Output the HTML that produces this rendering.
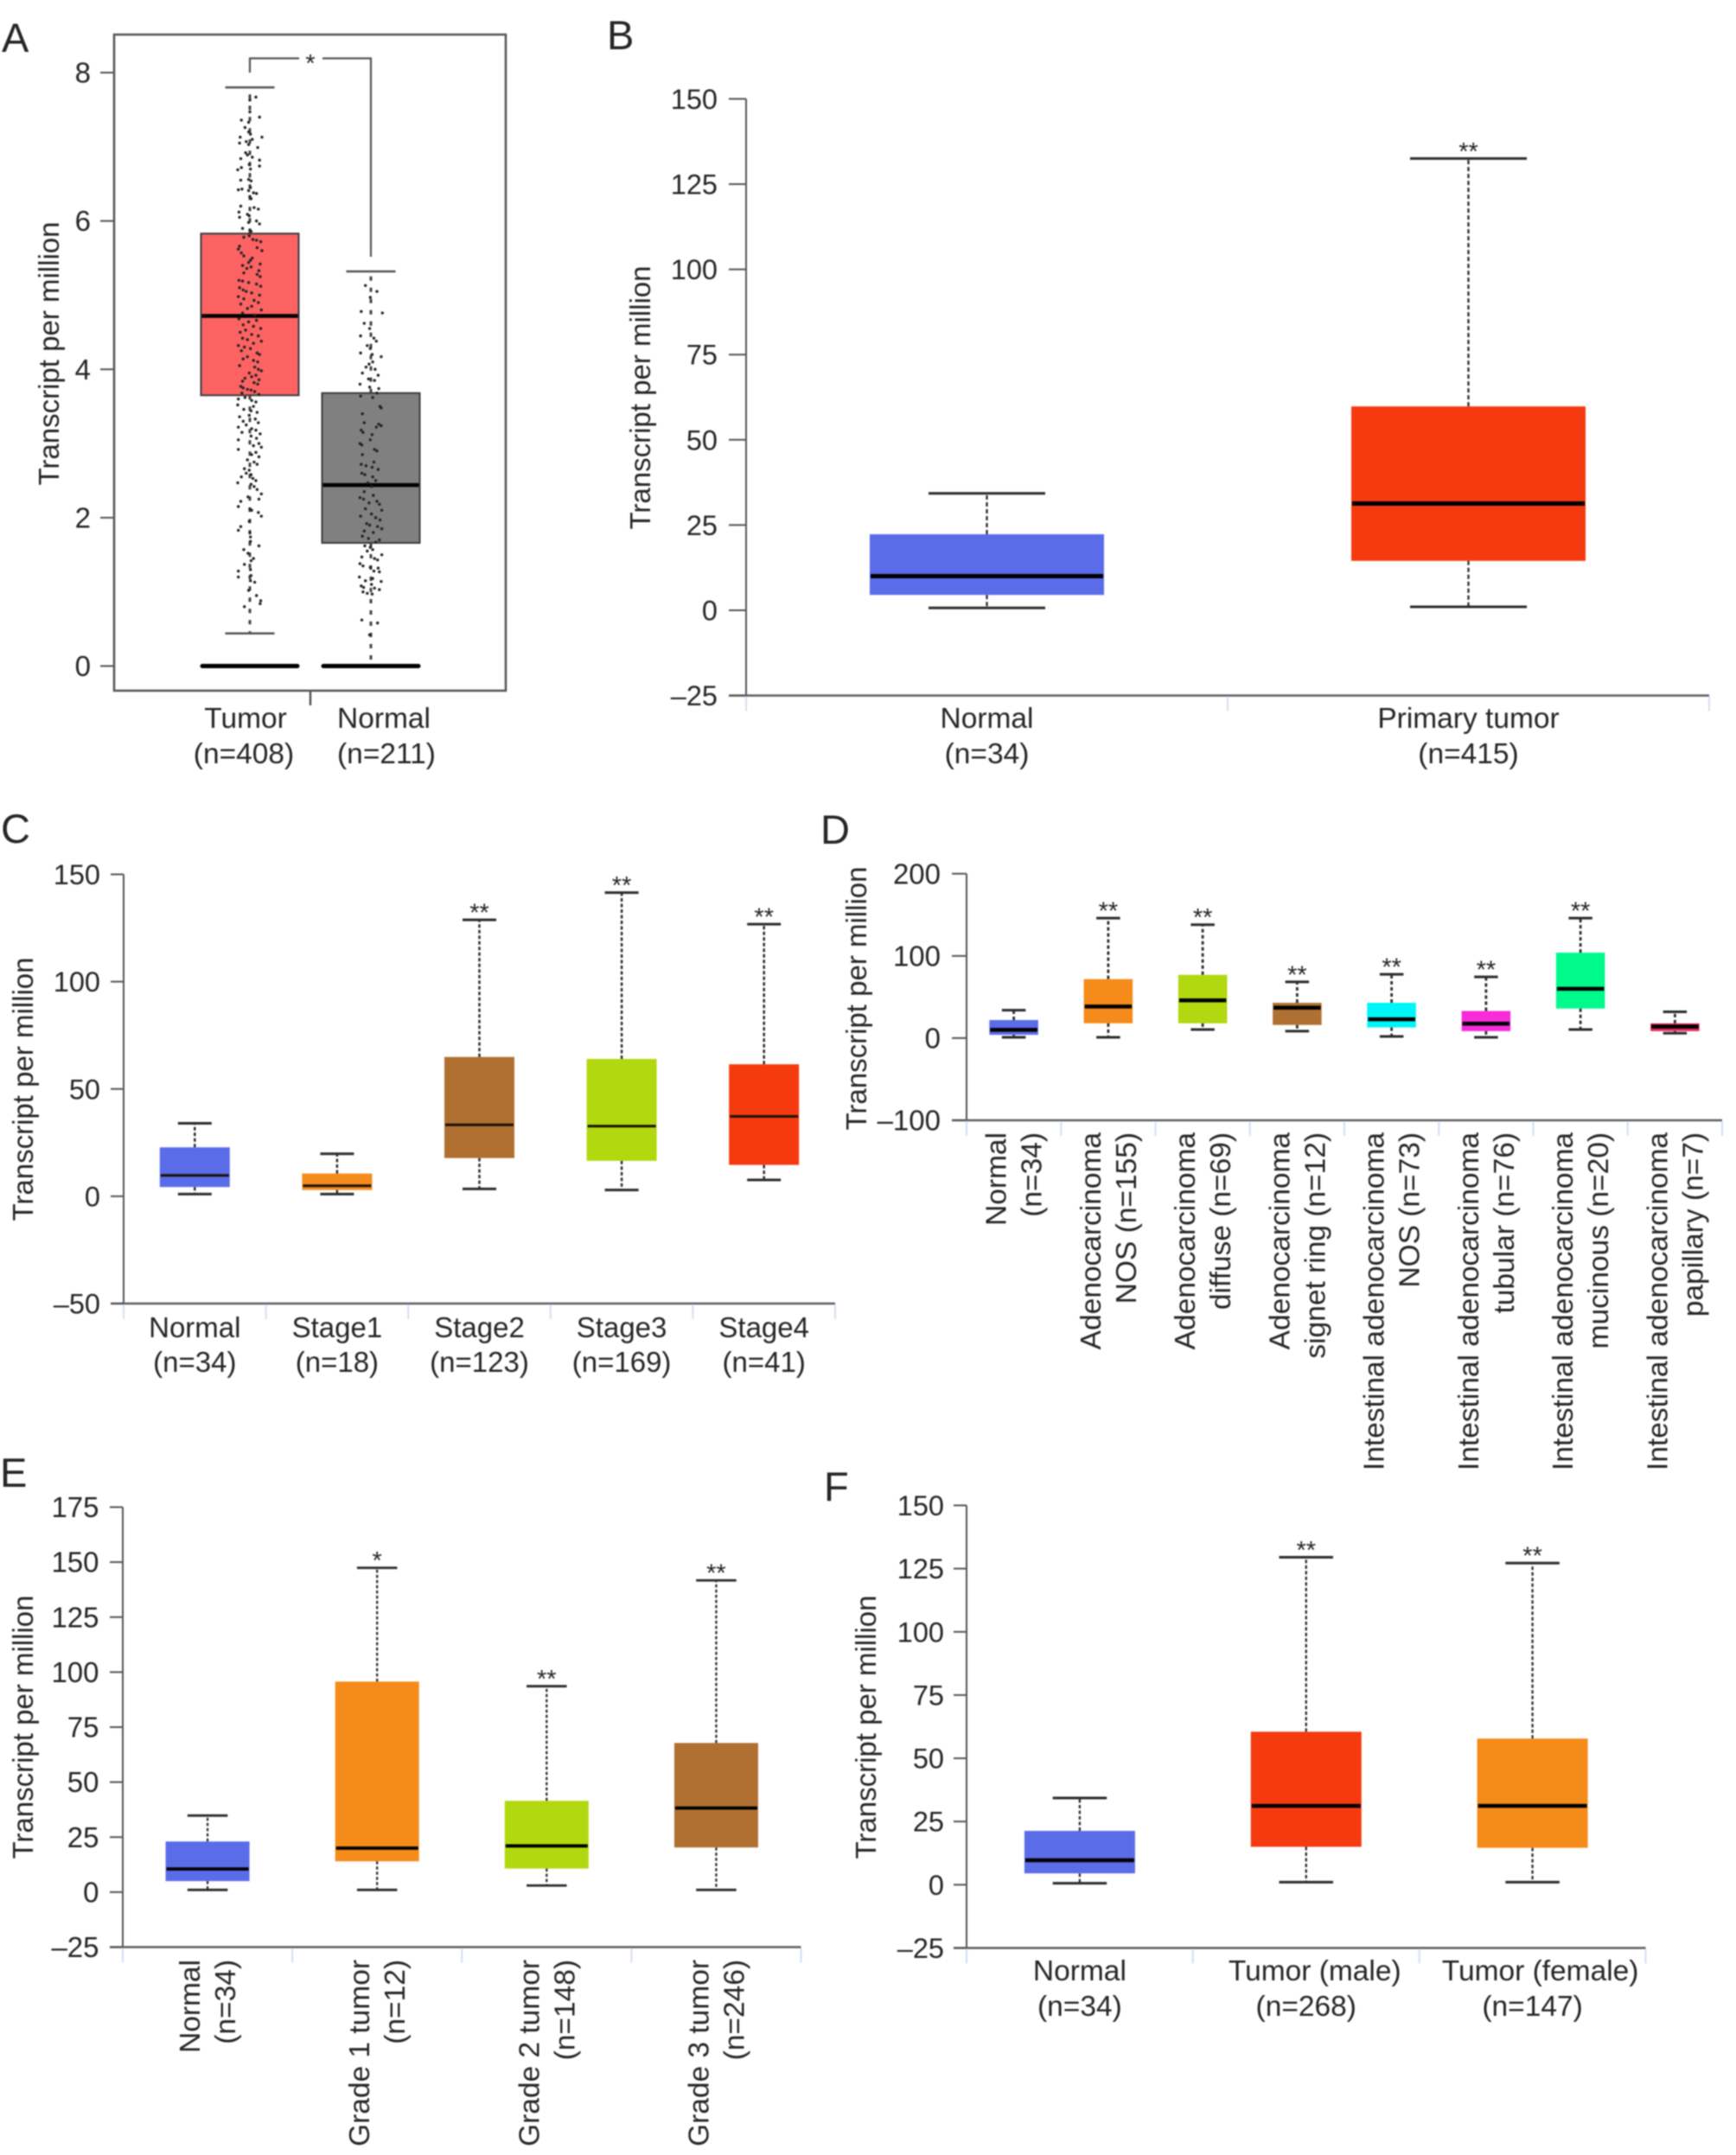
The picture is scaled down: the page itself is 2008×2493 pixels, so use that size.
<!DOCTYPE html>
<html lang="en">
<head>
<meta charset="utf-8">
<title>Transcript per million box plots</title>
<style>
html,body{margin:0;padding:0;background:#fff;}
#figure{display:block;width:2008px;height:2493px;filter:blur(0.9px);}
text{font-family:"Liberation Sans",Arial,sans-serif;fill:#262626;}
</style>
</head>
<body>
<svg id="figure" xmlns="http://www.w3.org/2000/svg" width="2008" height="2493" viewBox="0 0 2008 2493">
<rect x="0" y="0" width="2008" height="2493" fill="#ffffff"/>
<text x="2" y="60" font-size="47">A</text>
<text x="702" y="57" font-size="47">B</text>
<text x="1" y="975" font-size="47">C</text>
<text x="949" y="976" font-size="47">D</text>
<text x="0" y="1720" font-size="47">E</text>
<text x="953" y="1736" font-size="47">F</text>
<g id="plots"></g>
</svg>
<script>
// ---------- Panel A data ----------
const aTicks = [0, 2, 4, 6, 8];
const aLine1 = ['Tumor', 'Normal'];
const aLine2 = ['(n=408)', '(n=211)'];
const aHi = [7.8, 5.32];
const aQ3 = [5.83, 3.68];
const aMed = [4.72, 2.44];
const aQ1 = [3.65, 1.66];
const aLo = [0.44, 0];
const aZero = [0, 0];
const aSig = ['', ''];
// value, horizontal jitter (-1..1)
const aTumorPoints = [[7.63,0],[7.67,.5],[7.47,0],[7.4,.8],[7.36,-.7],[7.33,-.1],[7.26,-.4],[7.2,-.1],[7.17,.05],[7.13,-.8],[7.13,1],[7.1,.2],[7.05,-.85],[7.07,-.3],[7.03,-.1],[6.99,.65],[6.92,-.35],[6.89,-.2],[6.86,.2],[6.84,-.75],[6.82,.8],[6.76,-.05],[6.74,.8],[6.69,-1],[6.72,-.7],[6.7,.05],[6.55,-.75],[6.56,-.1],[6.54,.1],[6.45,.05],[6.42,-.95],[6.43,-.65],[6.41,-.1],[6.38,.3],[6.37,.55],[6.33,0],[6.3,.1],[6.2,-.75],[6.18,.35],[6.16,.7],[6.12,-.9],[6.09,-.2],[6.07,-.05],[6.05,-.85],[6.0,.55],[5.98,-.1],[5.96,.8],[5.9,-.6],[5.88,0],[5.86,.1],[5.8,-.05],[5.78,-.5],[5.75,.25],[5.74,.55],[5.72,.9],[5.66,-.85],[5.64,.6],[5.62,-.95],[5.6,1],[5.57,-.7],[5.53,-.5],[5.5,.2],[5.47,.05],[5.44,-.1],[5.42,.85],[5.4,-.6],[5.38,.1],[5.36,-.25],[5.33,.75],[5.3,-.5],[5.28,.6],[5.25,.85],[5.2,-.9],[5.19,-.6],[5.17,-.1],[5.15,.55],[5.12,.9],[5.1,-.85],[5.07,-.55],[5.05,-.3],[5.03,.15],[5.0,.8],[4.98,-.95],[4.95,-.5],[4.93,.35],[4.9,.7],[4.88,-.75],[4.85,.15],[4.82,-.2],[4.8,.95],[4.76,-.6],[4.73,.4],[4.68,-.9],[4.66,.55],[4.64,-.1],[4.6,-.55],[4.58,.3],[4.55,.9],[4.53,-.35],[4.5,-.8],[4.47,.15],[4.45,.7],[4.42,-.6],[4.4,-.2],[4.38,.95],[4.35,.3],[4.32,-.95],[4.3,-.45],[4.28,.05],[4.25,-.7],[4.22,.6],[4.2,.8],[4.17,-.2],[4.14,-.55],[4.12,.3],[4.1,.65],[4.05,-.85],[4.03,.4],[4.0,.7],[3.98,.95],[3.95,-.05],[3.92,.5],[3.9,.15],[3.88,-.4],[3.86,.75],[3.84,-.6],[3.82,.35],[3.8,.65],[3.77,-.75],[3.75,-.55],[3.73,-.2],[3.72,.1],[3.7,.4],[3.68,-.65],[3.66,.75],[3.62,-.4],[3.6,-.95],[3.58,.15],[3.56,.5],[3.52,-1],[3.5,.3],[3.46,-.5],[3.44,.1],[3.42,.6],[3.38,-.05],[3.36,-.85],[3.33,.45],[3.3,-.55],[3.28,.7],[3.25,-.3],[3.22,-.95],[3.2,.15],[3.18,.5],[3.15,-.65],[3.13,.85],[3.1,.1],[3.07,.55],[3.05,-.95],[3.0,.75],[2.97,.3],[2.95,.95],[2.92,-.95],[2.88,.5],[2.85,.15],[2.82,.75],[2.78,-.2],[2.75,.35],[2.72,.6],[2.66,-.45],[2.64,-.05],[2.6,-.3],[2.58,.1],[2.55,-.7],[2.53,.25],[2.5,.5],[2.47,-1],[2.45,.1],[2.42,.35],[2.38,.6],[2.32,.95],[2.28,-.15],[2.25,.75],[2.22,-.75],[2.15,-.95],[2.12,0],[2.1,.15],[2.07,.7],[2.02,.95],[1.95,-.05],[1.88,-.75],[1.83,-.95],[1.8,0],[1.74,.05],[1.68,.05],[1.62,.75],[1.57,-.5],[1.52,-.15],[1.45,.3],[1.42,.1],[1.37,-.45],[1.3,.05],[1.28,-.95],[1.22,.1],[1.2,-.95],[1.15,.05],[1.13,.4],[1.02,-.1],[.95,.55],[.88,.9],[.84,.85],[.8,-.45]];
const aNormalPoints = [[5.13,-.45],[5.05,.5],[4.97,-.05],[4.78,-.8],[4.76,.95],[4.62,-.55],[4.55,-.1],[4.45,-.85],[4.42,.25],[4.38,.45],[4.32,-.3],[4.28,-.05],[4.22,-.85],[4.2,.1],[4.17,.85],[4.1,.15],[4.07,-.15],[4.03,-.4],[4.0,.35],[3.95,-.7],[3.92,.6],[3.87,-.2],[3.85,.3],[3.8,-.9],[3.76,-.1],[3.74,.65],[3.68,.5],[3.64,-.85],[3.62,.15],[3.5,.75],[3.48,.85],[3.4,-.7],[3.28,-.55],[3.26,.65],[3.24,.85],[3.22,.45],[3.18,-.8],[3.15,-.65],[3.12,.1],[3.05,-.05],[3.0,-.9],[2.98,-.75],[2.92,.3],[2.9,.5],[2.85,-.7],[2.75,.25],[2.72,-.8],[2.7,-.4],[2.68,.1],[2.65,.6],[2.6,-.75],[2.58,-.5],[2.55,.15],[2.5,.4],[2.47,-.25],[2.42,.05],[2.35,-.55],[2.3,.2],[2.27,-.9],[2.25,-.6],[2.22,.5],[2.2,-.15],[2.18,.7],[2.12,-.45],[2.1,.9],[2.05,.05],[2.02,-.85],[2.0,.4],[1.97,.75],[1.92,-.35],[1.9,-.1],[1.88,.55],[1.85,.9],[1.82,-.55],[1.8,.2],[1.75,-.7],[1.72,-.2],[1.7,.7],[1.67,.4],[1.62,-.5],[1.6,-.05],[1.57,.15],[1.55,-.3],[1.5,.9],[1.47,-.75],[1.45,.3],[1.43,.55],[1.38,-.9],[1.35,-.65],[1.33,-.05],[1.32,.6],[1.28,.25],[1.27,.7],[1.2,-.95],[1.18,.15],[1.15,-.45],[1.14,.85],[1.1,.05],[1.08,-.8],[1.06,-.6],[1.05,.3],[1.03,.7],[1.0,-.65],[.98,-.3],[.97,.1],[.62,-.75],[.58,.55],[.42,-.1]];

// ---------- Panel B data ----------
const bTicks = [-25, 0, 25, 50, 75, 100, 125, 150];
const bLine1 = ['Normal', 'Primary tumor'];
const bLine2 = ['(n=34)', '(n=415)'];
const bHi = [34.3, 132.5];
const bQ3 = [22.3, 59.8];
const bMed = [10, 31.3];
const bQ1 = [4.5, 14.5];
const bLo = [0.7, 1];
const bSig = ['', '**'];

// ---------- Panel C data ----------
const cTicks = [-50, 0, 50, 100, 150];
const cLine1 = ['Normal', 'Stage1', 'Stage2', 'Stage3', 'Stage4'];
const cLine2 = ['(n=34)', '(n=18)', '(n=123)', '(n=169)', '(n=41)'];
const cHi = [34, 19.8, 128.8, 141.5, 126.8];
const cQ3 = [22.8, 10.6, 64.9, 64, 61.5];
const cMed = [9.7, 4.9, 33.3, 32.7, 37.2];
const cQ1 = [4.3, 2.9, 17.8, 16.5, 14.6];
const cLo = [1, 1, 3.4, 2.9, 7.6];
const cSig = ['', '', '**', '**', '**'];

// ---------- Panel D data ----------
const dTicks = [-100, 0, 100, 200];
const dLine1 = ['Normal', 'Adenocarcinoma', 'Adenocarcinoma', 'Adenocarcinoma', 'Intestinal adenocarcinoma', 'Intestinal adenocarcinoma', 'Intestinal adenocarcinoma', 'Intestinal adenocarcinoma'];
const dLine2 = ['(n=34)', 'NOS (n=155)', 'diffuse (n=69)', 'signet ring (n=12)', 'NOS (n=73)', 'tubular (n=76)', 'mucinous (n=20)', 'papillary (n=7)'];
const dHi = [34, 146, 138, 68.5, 77.7, 74.5, 146, 32];
const dQ3 = [22, 71.8, 77, 43, 43, 33, 104, 18];
const dMed = [10, 38.5, 46, 37, 23, 17.5, 60, 14];
const dQ1 = [4, 18, 18, 16, 13, 8.5, 36, 8.5];
const dLo = [1, 1, 10.5, 8.5, 2, 1, 10.5, 6];
const dSig = ['', '**', '**', '**', '**', '**', '**', ''];

// ---------- Panel E data ----------
const eTicks = [-25, 0, 25, 50, 75, 100, 125, 150, 175];
const eLine1 = ['Normal', 'Grade 1 tumor', 'Grade 2 tumor', 'Grade 3 tumor'];
const eLine2 = ['(n=34)', '(n=12)', '(n=148)', '(n=246)'];
const eHi = [34.8, 147.4, 93.6, 141.7];
const eQ3 = [23, 95.7, 41.5, 67.8];
const eMed = [10.5, 20, 21, 38.2];
const eQ1 = [5, 14, 10.7, 20.3];
const eLo = [1, 1, 3, 1];
const eSig = ['', '*', '**', '**'];

// ---------- Panel F data ----------
const fTicks = [-25, 0, 25, 50, 75, 100, 125, 150];
const fLine1 = ['Normal', 'Tumor (male)', 'Tumor (female)'];
const fLine2 = ['(n=34)', '(n=268)', '(n=147)'];
const fHi = [34.3, 129.5, 127.2];
const fQ3 = [21.3, 60.5, 57.8];
const fMed = [9.7, 31.2, 31.2];
const fQ1 = [4.5, 15, 14.6];
const fLo = [0.6, 1, 1];
const fSig = ['', '**', '**'];

// ---------- Drawing ----------
const SVGNS = 'http://www.w3.org/2000/svg';
const root = document.getElementById('plots');

function make(parent, tag, attrs, content) {
  const node = document.createElementNS(SVGNS, tag);
  for (const key in attrs) node.setAttribute(key, attrs[key]);
  if (content !== undefined) node.textContent = content;
  parent.appendChild(node);
  return node;
}
function slug(s) {
  return s.toLowerCase().replace(/[^a-z0-9]+/g, '-').replace(/^-|-$/g, '');
}
function fmtTick(v) {
  return v < 0 ? '\u2013' + Math.abs(v) : String(v);
}

function drawPanel(p) {
  const g = make(root, 'g', {});
  
  

  const yScale = v => p.yTop + (p.vTop - v) / (p.vTop - p.vBot) * (p.yBot - p.yTop);
  const n = p.line1.length;
  const xBand = i => p.bandL + (i + 0.5) * (p.bandR - p.bandL) / n;

  // axes
  if (p.frame) {
    const frame = make(g, 'rect', {x: p.axisL, y: p.frameTop, width: p.axisR - p.axisL, height: p.frameBot - p.frameTop, fill: 'none', stroke: '#555', 'stroke-width': 2.5});
    
    
    const mid = make(g, 'line', {x1: p.midTick, x2: p.midTick, y1: p.frameBot, y2: p.frameBot + 17, stroke: '#555', 'stroke-width': 2.5});
    
    
  } else {
    const yAxis = make(g, 'line', {x1: p.axisL, x2: p.axisL, y1: p.yTop, y2: p.yBot, stroke: '#555', 'stroke-width': 2});
    
    
    const xAxis = make(g, 'line', {x1: p.axisL - p.tickLen, x2: p.axisR, y1: p.yBot, y2: p.yBot, stroke: '#5e5e5e', 'stroke-width': 2.5});
    
    
    for (let i = 0; i <= n; i++) {
      const bx = p.bandL + i * (p.bandR - p.bandL) / n;
      const bt = make(g, 'line', {x1: bx, x2: bx, y1: p.yBot + 1, y2: p.yBot + 18, stroke: '#d3dff2', 'stroke-width': 2});
      
      
    }
  }

  // y ticks and labels
  p.ticks.forEach(v => {
    const ty = yScale(v);
    const tick = make(g, 'line', {x1: p.axisL - p.tickLen, x2: p.axisL, y1: ty, y2: ty, stroke: '#555', 'stroke-width': 2});
    
    
    const label = make(g, 'text', {x: p.tickRight, y: ty + 11.5, 'font-size': p.tickFont, 'text-anchor': 'end'}, fmtTick(v));
    
    
  });

  // y title
  const title = make(g, 'text', {'font-size': 33, 'text-anchor': 'middle', transform: 'translate(' + p.titleX + ' ' + p.titleY + ') rotate(-90)'}, 'Transcript per million');
  
  

  // boxes
  for (let i = 0; i < n; i++) {
    const cx = xBand(i);
    const key = p.id + '-' + slug(p.line1[i] + ' ' + p.line2[i]);
    const dashW = p.whiskerWidth, dash = p.whiskerDash;

    const upper = make(g, 'line', {x1: cx, x2: cx, y1: yScale(p.q3[i]), y2: yScale(p.hi[i]), stroke: p.whiskerColor, 'stroke-width': dashW, 'stroke-dasharray': dash});
    
    
    const lower = make(g, 'line', {x1: cx, x2: cx, y1: yScale(p.q1[i]), y2: yScale(p.lo[i]), stroke: p.whiskerColor, 'stroke-width': dashW, 'stroke-dasharray': dash});
    
    

    const capHi = make(g, 'line', {x1: cx - p.capW / 2, x2: cx + p.capW / 2, y1: yScale(p.hi[i]), y2: yScale(p.hi[i]), stroke: p.capColor, 'stroke-width': p.capWidth});
    
    
    const capLo = make(g, 'line', {x1: cx - p.capW / 2, x2: cx + p.capW / 2, y1: yScale(p.lo[i]), y2: yScale(p.lo[i]), stroke: p.capColor, 'stroke-width': p.capWidth});
    
    

    const boxAttrs = {x: cx - p.boxW / 2, y: yScale(p.q3[i]), width: p.boxW, height: yScale(p.q1[i]) - yScale(p.q3[i]), fill: p.colors[i]};
    if (p.boxStroke) { boxAttrs.stroke = p.boxStroke; boxAttrs['stroke-width'] = 2; }
    const box = make(g, 'rect', boxAttrs);
    
    

    const med = make(g, 'line', {x1: cx - p.boxW / 2 + 1, x2: cx + p.boxW / 2 - 1, y1: yScale(p.med[i]), y2: yScale(p.med[i]), stroke: p.medColor, 'stroke-width': p.medWidth});
    
    

    if (p.sig[i]) {
      const star = make(g, 'text', {x: cx, y: yScale(p.hi[i]) + 1.5, 'font-size': 29, 'text-anchor': 'middle'}, p.sig[i]);
      
      
    }

    // category labels
    const dx1 = p.dx1 ? p.dx1[i] : 0, dx2 = p.dx2 ? p.dx2[i] : 0;
    let l1, l2;
    if (p.rotated) {
      l1 = make(g, 'text', {'font-size': p.font, 'text-anchor': 'end', transform: 'translate(' + (cx + p.rotA) + ' ' + p.labelTop + ') rotate(-90)'}, p.line1[i]);
      l2 = make(g, 'text', {'font-size': p.font, 'text-anchor': 'end', transform: 'translate(' + (cx + p.rotB) + ' ' + p.labelTop + ') rotate(-90)'}, p.line2[i]);
    } else {
      l1 = make(g, 'text', {x: cx + dx1, y: p.base1, 'font-size': p.font, 'text-anchor': 'middle'}, p.line1[i]);
      l2 = make(g, 'text', {x: cx + dx2, y: p.base2, 'font-size': p.font, 'text-anchor': 'middle'}, p.line2[i]);
    }
    
    
    
    
  }
  return {g, yScale, xBand};
}

// Panel A
const panelA = drawPanel({
  id: 'a', frame: true, frameTop: 40, frameBot: 799, midTick: 359,
  axisL: 132, axisR: 585, tickLen: 16, tickRight: 105,
  yTop: 84, yBot: 770.5, vTop: 8, vBot: 0, ticks: aTicks,
  bandL: 219, bandR: 499, font: 33.5, tickFont: 33, titleX: 68, titleY: 409,
  line1: aLine1, line2: aLine2, hi: aHi, q3: aQ3, med: aMed, q1: aQ1, lo: aLo, sig: aSig,
  colors: ['#fd6363', '#808080'], boxStroke: '#3c3c3c', boxW: 113, capW: 57, capWidth: 2.5, capColor: '#555',
  whiskerWidth: 3, whiskerDash: '5 8', whiskerColor: '#444', medColor: '#000', medWidth: 4.5,
  base1: 842, base2: 883, dx1: [-5, 15], dx2: [-7, 18]
});
aZero.forEach((v, i) => {
  const cx = panelA.xBand(i);
  const zero = make(panelA.g, 'line', {x1: cx - 55, x2: cx + 55, y1: panelA.yScale(v), y2: panelA.yScale(v), stroke: '#000', 'stroke-width': 5, 'stroke-linecap': 'round'});
  
  
});
[aTumorPoints, aNormalPoints].forEach((pts, i) => {
  const cx = panelA.xBand(i);
  pts.forEach(pt => {
    const dot = make(panelA.g, 'circle', {cx: cx + pt[1] * 14, cy: panelA.yScale(pt[0]), r: 1.7, fill: '#222'});
    
    
  });
});
const bracket = make(panelA.g, 'polyline', {points: '289,84 289,67.5 346,67.5', fill: 'none', stroke: '#555', 'stroke-width': 2.2});


const bracketR = make(panelA.g, 'polyline', {points: '373,67.5 429,67.5 429,297', fill: 'none', stroke: '#555', 'stroke-width': 2.2});


const bracketStar = make(panelA.g, 'text', {x: 359, y: 83, 'font-size': 29, 'text-anchor': 'middle'}, '*');



const commonStyle = {
  whiskerColor: '#2c2c2c', capColor: '#2c2c2c', medColor: '#000', frame: false
};

// Panel B
drawPanel(Object.assign({}, commonStyle, {
  id: 'b', axisL: 863, axisR: 1977, tickLen: 20, tickRight: 830,
  yTop: 114.4, yBot: 804.6, vTop: 150, vBot: -25, ticks: bTicks,
  bandL: 863, bandR: 1977, font: 33.5, tickFont: 32.5, titleX: 752, titleY: 460,
  line1: bLine1, line2: bLine2, hi: bHi, q3: bQ3, med: bMed, q1: bQ1, lo: bLo, sig: bSig,
  colors: ['#5a6ce8', '#f63a10'], boxW: 271, capW: 135, capWidth: 3, medWidth: 5,
  whiskerWidth: 2.3, whiskerDash: '5 3', base1: 842, base2: 883
}));

// Panel C
drawPanel(Object.assign({}, commonStyle, {
  id: 'c', axisL: 143, axisR: 966, tickLen: 15, tickRight: 116,
  yTop: 1011.5, yBot: 1508, vTop: 150, vBot: -50, ticks: cTicks,
  bandL: 143, bandR: 966, font: 33, tickFont: 32.5, titleX: 38, titleY: 1260,
  line1: cLine1, line2: cLine2, hi: cHi, q3: cQ3, med: cMed, q1: cQ1, lo: cLo, sig: cSig,
  colors: ['#5a6ce8', '#f58b1b', '#b07032', '#b2d80f', '#f63a10'], boxW: 81, capW: 39, capWidth: 3, medWidth: 3,
  medColor: '#1a1208', whiskerWidth: 2.5, whiskerDash: '4 2.5', base1: 1547, base2: 1587
}));

// Panel D
drawPanel(Object.assign({}, commonStyle, {
  id: 'd', axisL: 1118, axisR: 1992, tickLen: 17, tickRight: 1088,
  yTop: 1010.8, yBot: 1296, vTop: 200, vBot: -100, ticks: dTicks,
  bandL: 1118, bandR: 1992, font: 33.5, tickFont: 33, titleX: 1002, titleY: 1155,
  line1: dLine1, line2: dLine2, hi: dHi, q3: dQ3, med: dMed, q1: dQ1, lo: dLo, sig: dSig,
  colors: ['#5a6ce8', '#f58b1b', '#b2d80f', '#b07032', '#00f5f8', '#f52cd8', '#00fa8c', '#e8285c'],
  boxW: 56.5, capW: 27.5, capWidth: 3, medWidth: 4.5,
  whiskerWidth: 2.8, whiskerDash: '4 3', rotated: true, labelTop: 1310, rotA: -9, rotB: 32
}));

// Panel E
drawPanel(Object.assign({}, commonStyle, {
  id: 'e', axisL: 142, axisR: 926.5, tickLen: 15, tickRight: 114.5,
  yTop: 1743.5, yBot: 2252.5, vTop: 175, vBot: -25, ticks: eTicks,
  bandL: 142, bandR: 926.5, font: 33.5, tickFont: 33, titleX: 38, titleY: 1998,
  line1: eLine1, line2: eLine2, hi: eHi, q3: eQ3, med: eMed, q1: eQ1, lo: eLo, sig: eSig,
  colors: ['#5a6ce8', '#f58b1b', '#b2d80f', '#b07032'], boxW: 97, capW: 46.5, capWidth: 2.8, medWidth: 3.8,
  whiskerWidth: 2.3, whiskerDash: '3.5 2.5', rotated: true, labelTop: 2267, rotA: -9, rotB: 32
}));

// Panel F
drawPanel(Object.assign({}, commonStyle, {
  id: 'f', axisL: 1118, axisR: 1903.5, tickLen: 15, tickRight: 1092,
  yTop: 1741.5, yBot: 2253.5, vTop: 150, vBot: -25, ticks: fTicks,
  bandL: 1118, bandR: 1903.5, font: 33.5, tickFont: 32.5, titleX: 1013, titleY: 1998,
  line1: fLine1, line2: fLine2, hi: fHi, q3: fQ3, med: fMed, q1: fQ1, lo: fLo, sig: fSig,
  colors: ['#5a6ce8', '#f63a10', '#f58b1b'], boxW: 128, capW: 62.5, capWidth: 3, medWidth: 4.5,
  whiskerWidth: 2.3, whiskerDash: '4 2.5', base1: 2291, base2: 2332, dx1: [0, 10, 9], dx2: [0, 0, 0]
}));
</script>
</body>
</html>
